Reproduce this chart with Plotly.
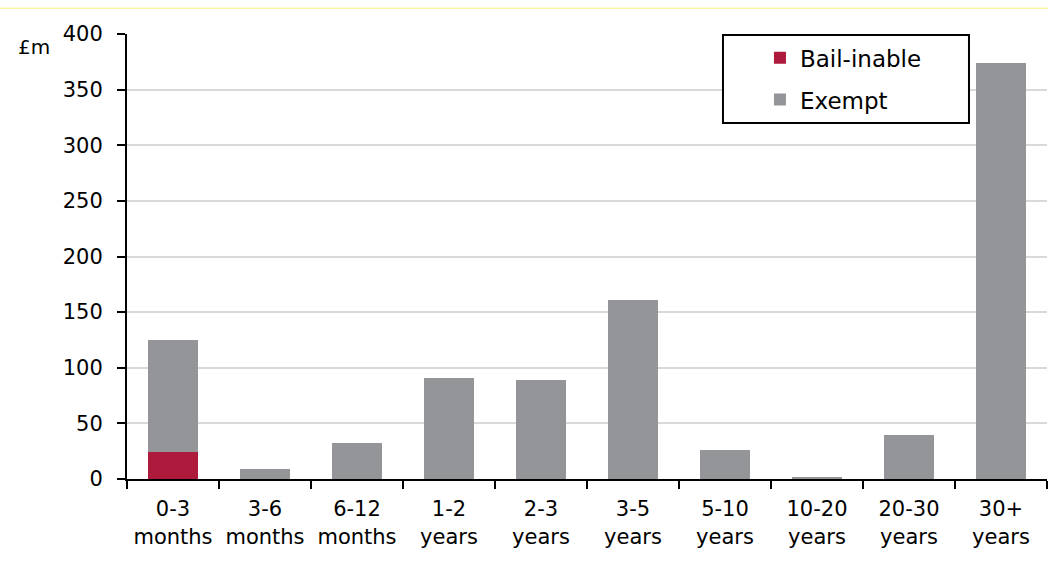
import plotly.graph_objects as go

categories = ["0-3<br>months", "3-6<br>months", "6-12<br>months", "1-2<br>years", "2-3<br>years",
              "3-5<br>years", "5-10<br>years", "10-20<br>years", "20-30<br>years", "30+<br>years"]
bail_inable = [24, 0, 0, 0, 0, 0, 0, 0, 0, 0]
exempt = [101, 9, 32, 91, 89, 161, 26, 1.5, 40, 374]

FONT = "DejaVu Sans"
fig = go.Figure()
fig.add_trace(go.Bar(x=categories, y=bail_inable, name="Bail-inable", legendgroup="a",
                     marker=dict(color="#AE1A3C", line=dict(width=0))))
fig.add_trace(go.Bar(x=categories, y=exempt, name="Exempt", legendgroup="b",
                     marker=dict(color="#939598", line=dict(width=0))))

fig.update_layout(
    barmode="stack", bargap=0.45,
    width=1048, height=573,
    margin=dict(l=127, r=1, t=34, b=94),
    paper_bgcolor="white", plot_bgcolor="white",
    font=dict(family=FONT, size=21, color="black"),
    legend=dict(x=0.688, y=0.995, xanchor="left", yanchor="top",
                borderwidth=0, bgcolor="rgba(0,0,0,0)",
                font=dict(size=23), tracegroupgap=9,
                traceorder="grouped"),
    showlegend=True,
)
fig.update_yaxes(range=[0, 400], dtick=50, showgrid=True, gridcolor="#D9D9D9", gridwidth=2,
                 showline=True, linecolor="black", linewidth=2,
                 ticks="outside", ticklen=8, tickcolor="black", tickwidth=2,
                 zeroline=False, ticklabelstandoff=10)
fig.update_xaxes(showline=True, linecolor="black", linewidth=2,
                 ticks="outside", ticklen=8, tickcolor="black", tickwidth=2,
                 tickson="boundaries", ticklabelstandoff=10)
fig.add_shape(type="rect", xref="paper", yref="paper", x0=0.6478, x1=0.9152,
              y0=0.8, y1=0.9978, line=dict(color="black", width=2),
              fillcolor="white", layer="above")
fig.add_annotation(text="£m", xref="paper", yref="paper", x=-0.101, y=0.971,
                   xanchor="center", yanchor="middle", showarrow=False,
                   font=dict(size=20, family=FONT))
fig.add_shape(type="line", xref="paper", yref="paper", x0=-0.2, x1=1.01,
              y0=1.058, y1=1.058, line=dict(color="#F5F07A", width=1))
fig.write_html("out.html")
